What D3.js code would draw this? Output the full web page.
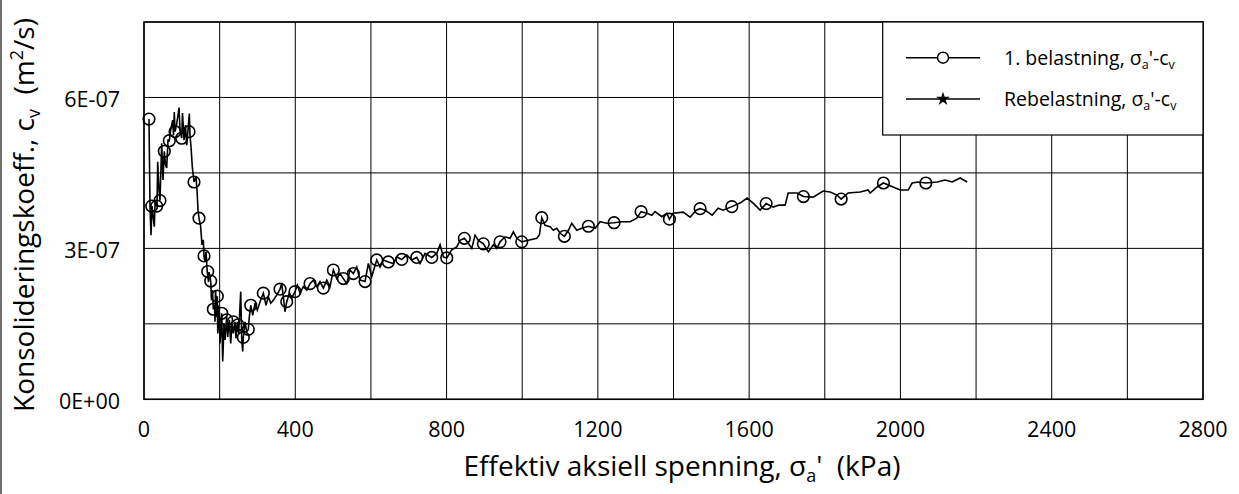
<!DOCTYPE html>
<html>
<head>
<meta charset="utf-8">
<script src="https://cdn.jsdelivr.net/npm/d3@7"></script>
<style>
	body { margin: 0; background: #fff; }
	text { font-family: 'Open Sans', sans-serif; fill: #000; white-space: pre; }
</style>
</head>
<body>
<div id="chart"></div>
<script>
// 1. belastning: effective axial stress (kPa) and cv (x 1e-7 m2/s)
const stress = [
	13.2, 15.9, 18.5, 21.2, 27.2, 29.1, 34.4, 36.2, 39.7, 42.3, 46.8, 50.2, 53.7, 56.9, 60.0, 63.5, 66.9, 70.6,
	75.9, 78.0, 80.1, 82.0, 85.9, 89.9, 92.6, 95.2, 99.7, 101.8, 105.8, 109.7, 112.9, 116.4, 119.8, 121.6, 124.3,
	127.7, 132.2, 137.5, 140.2, 142.8, 145.4, 149.4, 153.4, 156.8, 158.7, 161.3, 164.0, 167.4, 170.6, 171.9, 176.4,
	178.5, 181.1, 183.3, 186.4, 187.8, 189.1, 192.3, 193.8, 195.0, 199.1, 201.0, 205.5, 208.1, 211.6, 214.2, 218.7,
	221.3, 225.6, 229.3, 232.7, 236.2, 240.6, 243.3, 246.7, 250.4, 255.7, 258.4, 261.0, 262.6, 267.1, 271.6, 275.8,
	278.5, 282.2, 287.5, 293.5, 299.6, 306.8, 315.5, 322.6, 328.7, 335.1, 341.9, 350.9, 359.7, 364.1, 368.4, 372.9,
	377.4, 384.2, 390.6, 399.3, 405.4, 412.5, 421.3, 430.3, 439.0, 447.7, 456.7, 465.4, 474.2, 483.2, 491.9, 500.6,
	509.6, 518.3, 527.0, 536.0, 544.8, 553.5, 562.5, 571.2, 584.4, 593.2, 602.2, 615.4, 624.1, 632.8, 646.0, 659.3,
	668.3, 681.5, 694.7, 707.9, 721.2, 729.9, 743.1, 760.8, 774.1, 782.8, 791.5, 800.5, 813.7, 826.9, 835.7, 847.0,
	857.6, 866.6, 875.3, 884.1, 897.3, 910.5, 923.7, 932.7, 941.4, 954.7, 967.9, 976.6, 985.6, 998.8, 1016.3, 1038.5,
	1045.6, 1051.7, 1060.4, 1073.7, 1082.4, 1091.4, 1100.1, 1111.5, 1122.1, 1131.0, 1144.3, 1157.5, 1175.0, 1192.7,
	1205.9, 1223.6, 1242.9, 1263.3, 1285.2, 1302.9, 1314.3, 1329.4, 1342.6, 1351.3, 1369.1, 1382.3, 1389.2, 1398.9,
	1425.4, 1443.9, 1459.8, 1470.3, 1483.6, 1502.1, 1518.0, 1531.2, 1554.2, 1576.1, 1594.7, 1610.5, 1629.0, 1644.9,
	1663.4, 1679.3, 1695.2, 1703.1, 1726.9, 1743.5, 1769.2, 1795.6, 1814.1, 1832.6, 1843.2, 1861.7, 1893.5, 1914.6,
	1919.9, 1938.4, 1955.1, 1980.7, 1999.2, 2020.4, 2031.0, 2046.8, 2067.2, 2097.1, 2118.2, 2136.8, 2157.9, 2176.4
];
const cv = [
	5.57, 3.83, 3.26, 3.84, 3.43, 3.86, 3.84, 4.72, 4.16, 3.95, 5.09, 4.36, 4.93, 4.66, 4.60, 5.15, 5.14, 5.35,
	5.55, 5.25, 5.71, 5.32, 5.45, 5.65, 5.80, 5.35, 5.19, 5.69, 5.15, 5.45, 5.05, 5.35, 5.68, 5.25, 5.02,
	4.62, 4.32, 4.42, 4.16, 3.76, 3.60, 3.46, 3.07, 3.17, 2.85, 2.73, 2.93, 2.52, 2.33, 2.53, 2.35,
	1.97, 2.17, 1.79, 1.87, 1.54, 2.17, 1.71, 2.05, 1.31, 1.74, 1.11, 1.71, 0.75, 1.51, 1.18, 1.64,
	1.24, 1.58, 1.11, 1.51, 1.31, 1.54, 1.21, 1.54, 1.31, 2.14, 1.18, 0.95, 1.23, 1.54, 1.34, 1.39,
	1.64, 1.87, 1.67, 1.91, 1.77, 1.94, 2.11, 1.87, 2.04, 1.91, 1.97, 2.07, 2.19, 2.30, 2.04, 1.74,
	1.94, 2.11, 2.01, 2.14, 2.27, 2.11, 2.24, 2.17, 2.30, 2.37, 2.24, 2.34, 2.21, 2.37, 2.24, 2.57,
	2.40, 2.50, 2.40, 2.30, 2.57, 2.50, 2.63, 2.37, 2.34, 2.70, 2.44, 2.77, 2.63, 2.77, 2.73, 2.70,
	2.83, 2.78, 2.87, 2.77, 2.82, 2.70, 2.90, 2.82, 2.90, 3.07, 2.83, 2.81, 2.97, 3.03, 3.16, 3.20,
	3.10, 3.00, 3.26, 3.16, 3.09, 2.93, 3.07, 3.00, 3.13, 3.23, 3.20, 3.33, 3.20, 3.13, 3.16, 3.20,
	3.27, 3.61, 3.46, 3.43, 3.36, 3.40, 3.30, 3.24, 3.36, 3.50, 3.36, 3.40, 3.44, 3.40,
	3.53, 3.50, 3.51, 3.53, 3.53, 3.60, 3.73, 3.70, 3.66, 3.73, 3.63, 3.70, 3.58, 3.70,
	3.72, 3.62, 3.76, 3.79, 3.76, 3.66, 3.80, 3.76, 3.83, 3.90, 4.00, 3.90, 3.76, 3.89,
	3.82, 3.86, 3.86, 4.10, 4.10, 4.03, 4.02, 4.14, 4.12, 4.06, 3.98, 4.10, 4.12, 4.16,
	4.10, 4.22, 4.30, 4.22, 4.16, 4.16, 4.30, 4.32, 4.30, 4.32, 4.36, 4.32, 4.40, 4.32
];

// points carrying a circle marker
const markStress = [
	13.2, 20.4, 33.6, 42.3, 53.7, 66.9, 82.0, 99.7, 119.0, 132.2, 145.4, 158.7, 168.5, 176.4, 193.8, 183.3,
	205.5, 218.7, 236.2, 248.6, 262.6, 275.8, 282.2, 315.5, 359.7, 377.4, 399.3, 439.0, 474.2, 500.6, 527.0,
	553.5, 584.4, 615.4, 646.0, 681.5, 721.2, 760.8, 800.5, 847.0, 897.3, 941.4, 998.8, 1051.7, 1111.5,
	1175.0, 1242.9, 1314.3, 1389.2, 1470.3, 1554.2, 1644.9, 1743.5, 1843.2, 1955.1, 2067.2
];
const markCv = [
	5.57, 3.84, 3.84, 3.95, 4.93, 5.14, 5.32, 5.19, 5.32, 4.32, 3.60, 2.85, 2.54, 2.35, 2.05, 1.79,
	1.71, 1.58, 1.54, 1.48, 1.23, 1.39, 1.87, 2.11, 2.19, 1.94, 2.14, 2.30, 2.21, 2.57, 2.40,
	2.50, 2.34, 2.77, 2.73, 2.78, 2.82, 2.82, 2.81, 3.20, 3.09, 3.13, 3.13, 3.61, 3.24,
	3.44, 3.51, 3.73, 3.58, 3.79, 3.83, 3.89, 4.03, 3.98, 4.30, 4.30
];

const xTicks = [0, 400, 800, 1200, 1600, 2000, 2400, 2800];
const xGrid = d3.range(0, 2801, 200);
const yTicks = [0, 3e-7, 6e-7];
const yGrid = [0, 1.5e-7, 3e-7, 4.5e-7, 6e-7, 7.5e-7];
const legendLabels = ['1. belastning', 'Rebelastning'];

const W = 1239;
const H = 494;
const plot = { left: 144, right: 1203, top: 22, bottom: 399.3 };

const svg = d3.select('#chart').append('svg').attr('width', W).attr('height', H);

const x = d3.scaleLinear().domain([0, 2800]).range([plot.left, plot.right]);
const y = d3.scaleLinear().domain([0, 7.5e-7]).range([plot.bottom, plot.top]);

function fmtExp(v) {
	if (v === 0) return '0E+00';
	const parts = v.toExponential(0).split('e');
	const e = +parts[1];
	return parts[0] + 'E' + (e < 0 ? '-' : '+') + String(Math.abs(e)).padStart(2, '0');
}

// outer chart border (only left edge visible)
svg.append('line').attr('x1', 1).attr('x2', 1).attr('y1', 0).attr('y2', H).attr('stroke', '#404040').attr('stroke-width', 1.5);

// grid
const grid = svg.append('g');
grid
	.selectAll('.vg')
	.data(xGrid)
	.enter()
	.append('line')
	.attr('x1', (d) => x(d))
	.attr('x2', (d) => x(d))
	.attr('y1', plot.top)
	.attr('y2', plot.bottom)
	.attr('stroke', '#000')
	.attr('stroke-width', 1);
grid
	.selectAll('.hg')
	.data(yGrid)
	.enter()
	.append('line')
	.attr('x1', plot.left)
	.attr('x2', plot.right)
	.attr('y1', (d) => y(d))
	.attr('y2', (d) => y(d))
	.attr('stroke', '#000')
	.attr('stroke-width', 1);

// tick labels
svg
	.selectAll('.xt')
	.data(xTicks)
	.enter()
	.append('text')
	.attr('x', (d) => x(d))
	.attr('y', 437)
	.attr('text-anchor', 'middle')
	.style('font-size', '21.5px')
	.text((d) => d);

svg
	.selectAll('.yt')
	.data(yTicks)
	.enter()
	.append('text')
	.attr('x', 120)
	.attr('y', (d) => y(d) + 10)
	.attr('text-anchor', 'end')
	.style('font-size', '21.5px')
	.text(fmtExp);

// series
const pts = stress.map((s, i) => [s, cv[i] * 1e-7]);
const marks = markStress.map((s, i) => [s, markCv[i] * 1e-7]);

const line = d3
	.line()
	.x((d) => x(d[0]))
	.y((d) => y(d[1]));

svg.append('path').datum(pts).attr('d', line).attr('fill', 'none').attr('stroke', '#000').attr('stroke-width', 1.6);

svg
	.selectAll('.mk')
	.data(marks)
	.enter()
	.append('circle')
	.attr('cx', (d) => x(d[0]))
	.attr('cy', (d) => y(d[1]))
	.attr('r', 5.8)
	.attr('fill', 'none')
	.attr('stroke', '#000')
	.attr('stroke-width', 1.6);

// plot border
svg
	.append('rect')
	.attr('x', plot.left)
	.attr('y', plot.top)
	.attr('width', plot.right - plot.left)
	.attr('height', plot.bottom - plot.top)
	.attr('fill', 'none')
	.attr('stroke', '#000')
	.attr('stroke-width', 1.5);

// legend
const lg = svg.append('g');
lg.append('rect')
	.attr('x', 882.7)
	.attr('y', plot.top)
	.attr('width', 1203 - 882.7)
	.attr('height', 113)
	.attr('fill', '#fff')
	.attr('stroke', '#000')
	.attr('stroke-width', 1.2);

const rows = lg
	.selectAll('.row')
	.data(legendLabels)
	.enter()
	.append('g')
	.attr('transform', (d, i) => `translate(0,${i === 0 ? 57.7 : 99})`);

rows.append('line').attr('x1', 906).attr('x2', 980).attr('y1', 0).attr('y2', 0).attr('stroke', '#000').attr('stroke-width', 1.4);

rows
	.filter((d, i) => i === 0)
	.append('circle')
	.attr('cx', 943)
	.attr('cy', 0)
	.attr('r', 5.5)
	.attr('fill', '#fff')
	.attr('stroke', '#000')
	.attr('stroke-width', 1.5);

rows
	.filter((d, i) => i === 1)
	.append('path')
	.attr('d', d3.symbol().type(d3.symbolStar).size(60))
	.attr('transform', 'translate(943,0)')
	.attr('fill', '#000');

const lt = rows.append('text').attr('x', 1004).attr('y', 7).style('font-size', '19.5px');
lt.append('tspan').text((d) => d + ', σ');
lt.append('tspan').attr('dy', 4).style('font-size', '12.5px').text('a');
lt.append('tspan').attr('dy', -4).text("'-c");
lt.append('tspan').attr('dy', 4).style('font-size', '12.5px').text('v');

// axis titles
const xt = svg.append('text').attr('x', 682).attr('y', 476).attr('text-anchor', 'middle').style('font-size', '28px');
xt.append('tspan').text('Effektiv aksiell spenning, σ');
xt.append('tspan').attr('dy', 6).style('font-size', '18px').text('a');
xt.append('tspan').attr('dy', -6).text("'  (kPa)");

const yt = svg
	.append('text')
	.attr('transform', 'translate(34,215) rotate(-90)')
	.attr('text-anchor', 'middle')
	.style('font-size', '28px');
yt.append('tspan').text('Konsolideringskoeff., c');
yt.append('tspan').attr('dy', 6).style('font-size', '18px').text('v');
yt.append('tspan').attr('dy', -6).text('  (m');
yt.append('tspan').attr('dy', -11).style('font-size', '18px').text('2');
yt.append('tspan').attr('dy', 11).text('/s)');
</script>
</body>
</html>
